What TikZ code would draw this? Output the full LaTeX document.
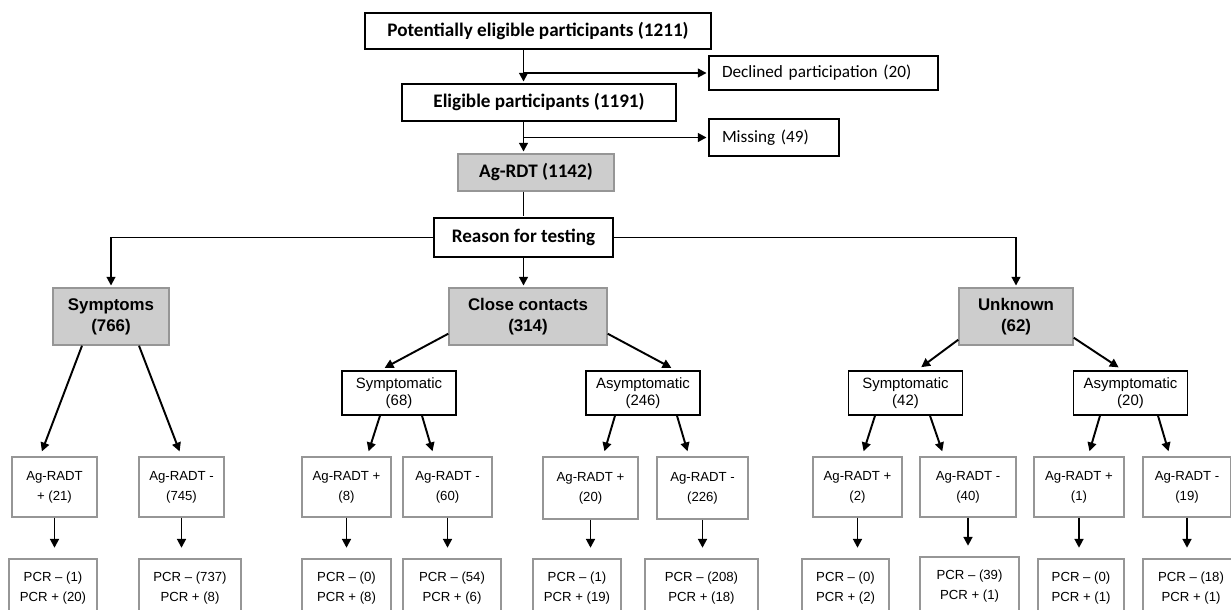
\documentclass[tikz,border=0pt]{standalone}
\usepackage{fontspec}
\setmainfont{Carlito}
\newfontfamily\arialfont{Liberation Sans}
\usepackage{tikz}
\usetikzlibrary{arrows.meta,positioning}
\definecolor{boxgray}{RGB}{205,205,205}
\definecolor{edgegray}{RGB}{150,150,150}

\begin{document}
\begin{tikzpicture}[x=0.02cm, y=-0.02cm, line width=1.1pt, shorten >=1pt,
    >={Triangle[length=5pt,width=5pt]},
    flow/.style={draw, line width=0.8pt, fill=white, inner sep=0pt, align=center},
    top/.style={flow, font=\fontsize{10.9}{13}\selectfont\bfseries},
    side/.style={flow, font=\fontsize{9.8}{11}\selectfont, align=left, inner xsep=0.26cm},
    group/.style={flow, draw=edgegray, fill=boxgray, minimum height=1.14cm,
        font=\arialfont\fontsize{9.6}{11.9}\selectfont\bfseries},
    sub/.style={flow, minimum width=2.28cm, minimum height=0.88cm,
        font=\arialfont\fontsize{8.5}{9.6}\selectfont},
    test/.style={flow, draw=edgegray, minimum height=1.2cm,
        font=\arialfont\fontsize{7.5}{11.3}\selectfont},
    pcr/.style={test, minimum height=1.16cm}]
    \clip (0,0) rectangle (1231,609);

    \node[top, minimum width=6.92cm, minimum height=0.72cm] (pot) at (538,31) {Potentially eligible participants (1211)};
    \node[side, text width=4.06cm, minimum height=0.68cm] (decl) at (823.5,73) {Declined participation (20)};
    \node[top, minimum width=5.48cm, minimum height=0.74cm] (elig) at (539,102.5) {Eligible participants (1191)};
    \node[side, text width=2.08cm, minimum height=0.74cm] (miss) at (774,137.5) {Missing (49)};
    \node[top, draw=edgegray, fill=boxgray, minimum width=3.12cm, minimum height=0.74cm] (agrdt) at (536,172.5) {Ag-RDT (1142)};
    \node[top, minimum width=3.58cm, minimum height=0.78cm] (reason) at (523.5,237.5) {Reason for testing};

    \node[group, minimum width=2.32cm] (symp) at (111,316.5) {Symptoms\\(766)};
    \node[group, minimum width=3.16cm] (close) at (528,316.5) {Close contacts\\(314)};
    \node[group, minimum width=2.28cm] (unk) at (1016,316.5) {Unknown\\(62)};

    \node[sub] (csym) at (399,393) {Symptomatic\\(68)};
    \node[sub] (casym) at (643,393) {Asymptomatic\\(246)};
    \node[sub] (usym) at (905.5,393) {Symptomatic\\(42)};
    \node[sub] (uasym) at (1130.5,393) {Asymptomatic\\(20)};

    \node[test, minimum width=1.70cm] (a1) at (54.5,487) {Ag-RADT\\+ (21)};
    \node[test, minimum width=1.70cm] (a2) at (181.5,487) {Ag-RADT -\\(745)};
    \node[test, minimum width=1.78cm] (a3) at (346.5,487) {Ag-RADT +\\(8)};
    \node[test, minimum width=1.78cm] (a4) at (447.5,487) {Ag-RADT -\\(60)};
    \node[test, minimum width=1.90cm, minimum height=1.24cm] (a5) at (590.5,488) {Ag-RADT +\\(20)};
    \node[test, minimum width=1.82cm, minimum height=1.24cm] (a6) at (702.5,488) {Ag-RADT -\\(226)};
    \node[test, minimum width=1.78cm] (a7) at (857.5,487) {Ag-RADT +\\(2)};
    \node[test, minimum width=1.92cm] (a8) at (968,487) {Ag-RADT -\\(40)};
    \node[test, minimum width=1.80cm] (a9) at (1079,487) {Ag-RADT +\\(1)};
    \node[test, minimum width=1.76cm] (a10) at (1187,487) {Ag-RADT -\\(19)};

    \node[pcr, minimum width=1.76cm] (p1) at (53,588) {PCR – (1)\\PCR + (20)};
    \node[pcr, minimum width=2.04cm] (p2) at (190,588) {PCR – (737)\\PCR + (8)};
    \node[pcr, minimum width=1.78cm] (p3) at (346.5,588) {PCR – (0)\\PCR + (8)};
    \node[pcr, minimum width=1.96cm] (p4) at (452,588) {PCR – (54)\\PCR + (6)};
    \node[pcr, minimum width=1.76cm] (p5) at (577,588) {PCR – (1)\\PCR + (19)};
    \node[pcr, minimum width=2.26cm] (p6) at (701.5,588) {PCR – (208)\\PCR + (18)};
    \node[pcr, minimum width=1.74cm] (p7) at (845.5,588) {PCR – (0)\\PCR + (2)};
    \node[pcr, minimum width=1.98cm] (p8) at (969.5,586) {PCR – (39)\\PCR + (1)};
    \node[pcr, minimum width=1.72cm] (p9) at (1081,588) {PCR – (0)\\PCR + (1)};
    \node[pcr, minimum width=1.92cm] (p10) at (1191,588) {PCR – (18)\\PCR + (1)};

    \path[->]
        (pot.south -| reason) edge (elig.north -| reason)
        (decl.west -| reason) edge (decl.west)
        (elig.south -| reason) edge (agrdt.north -| reason)
        (miss.west -| reason) edge (miss.west)
        (reason.south) edge (reason.south |- close.north);
    \draw (agrdt.south -| reason) -- (reason.north);
    \draw[->] (reason.west) -| (symp.north);
    \draw[->] (reason.east) -| (unk.north);

    \path[->, shorten >=3pt]
        ([yshift=0.24cm]close.south west) edge ([xshift=-0.38cm]csym.north)
        ([yshift=0.24cm]close.south east) edge ([xshift=0.66cm]casym.north)
        ([yshift=0.12cm]unk.south west) edge ([xshift=0.23cm]usym.north)
        ([yshift=0.16cm]unk.south east) edge ([xshift=-0.15cm]uasym.north);

    \path[->, shorten >=3pt]
        ([xshift=-0.58cm]symp.south) edge ([xshift=-0.29cm]a1.north)
        ([xshift=0.56cm]symp.south) edge (a2.north)
        ([xshift=-0.38cm]csym.south) edge ([xshift=0.41cm]a3.north)
        ([xshift=0.46cm]csym.south) edge ([xshift=-0.27cm]a4.north)
        ([xshift=-0.56cm]casym.south) edge ([xshift=0.25cm]a5.north)
        ([xshift=0.68cm]casym.south) edge ([xshift=-0.27cm]a6.north)
        ([xshift=-0.61cm]usym.south) edge ([xshift=0.09cm]a7.north)
        ([xshift=0.49cm]usym.south) edge ([xshift=-0.48cm]a8.north)
        ([xshift=-0.61cm]uasym.south) edge ([xshift=0.18cm]a9.north)
        ([xshift=0.55cm]uasym.south) edge ([xshift=-0.34cm]a10.north);

    \path[->, shorten >=6pt]
        (a1) edge (a1 |- p1.north)
        (a2) edge (a2 |- p2.north)
        (a3) edge (a3 |- p3.north)
        (a4) edge (a4 |- p4.north)
        (a5) edge (a5 |- p5.north)
        (a6) edge (a6 |- p6.north)
        (a7) edge (a7 |- p7.north)
        (a8) edge (a8 |- p8.north)
        (a9) edge (a9 |- p9.north)
        (a10) edge (a10 |- p10.north);
\end{tikzpicture}
\end{document}
